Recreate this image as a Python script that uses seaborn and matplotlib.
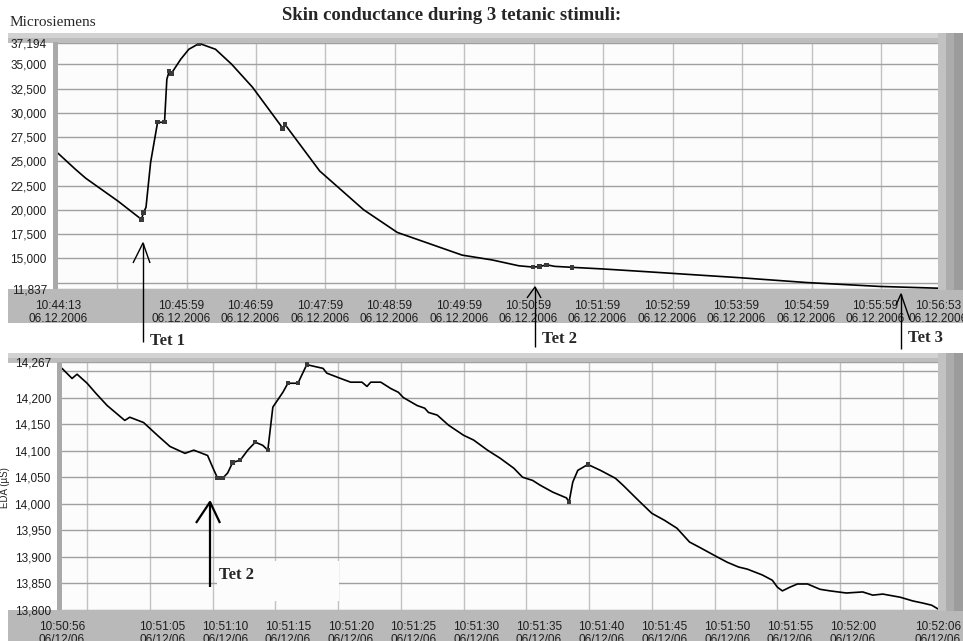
import matplotlib
matplotlib.use("Agg")
import matplotlib.pyplot as plt
import seaborn as sns
from matplotlib.patches import Rectangle
from matplotlib.lines import Line2D

# ---- data ----
# upper panel: seconds after 10:44:13, microsiemens
top_t = [0, 15, 24, 52, 72, 74, 76, 80, 86, 92, 94, 96, 98, 106, 113, 122, 136, 150, 168, 192,
         194, 196, 226, 264, 293, 321, 349, 375, 398, 410, 416, 422, 429, 444, 471, 511, 555, 589, 647, 710, 760]
top_v = [25830, 24180, 23250, 20880, 19020, 19740, 20260, 24900, 29020, 29020, 33450, 34280, 34070, 35520,
         36550, 37150, 36550, 35000, 32630, 28750, 28400, 28800, 24000, 20000, 17670, 16500, 15330, 14830,
         14230, 14100, 14150, 14330, 14170, 14070, 13900, 13600, 13260, 13000, 12500, 12100, 11920]
top_marks = [72, 74, 86, 92, 96, 98, 122, 194, 196, 410, 416, 422, 444]

top_tick_t = [0, 46, 106, 166, 226, 286, 346, 406, 466, 526, 586, 646, 706, 760]
top_tick_lab = ["10:44:13", "", "10:45:59", "10:46:59", "10:47:59", "10:48:59", "10:49:59", "10:50:59",
                "10:51:59", "10:52:59", "10:53:59", "10:54:59", "10:55:59", "10:56:53"]
top_date = "06.12.2006"
top_grid_t = [51, 111, 171, 231, 291, 351, 411, 471, 531, 591, 651, 711]
top_yticks = [11837, 12500, 15000, 17500, 20000, 22500, 25000, 27500, 30000, 32500, 35000, 37194]
top_yhide = [12500]

# lower panel: seconds after 10:50:56
bot_t = [1.0, 1.8, 2.2, 3.0, 3.7, 4.6, 6.0, 6.4, 7.5, 8.6,
         9.6, 10.8, 11.5, 12.6, 13.0, 13.4, 13.8, 14.2, 14.6, 15.2,
         15.8, 16.4, 17.0, 17.4, 17.8, 18.6, 19.0, 19.8, 20.5, 21.8,
         22.1, 23.2, 24.0, 24.9, 25.3, 25.6, 26.4, 27.2, 27.8, 28.2,
         29.3, 29.9, 30.2, 30.9, 31.8, 33.0, 33.8, 34.9, 35.9, 37.0,
         37.7, 38.5, 39.1, 40.1, 41.2, 41.4, 41.7, 42.1, 42.9, 43.9,
         45.1, 45.7, 46.9, 48.0, 49.0, 50.0, 51.0, 51.8, 53.2, 54.0,
         54.9, 55.6, 56.8, 57.6, 58.0, 58.4, 59.0, 59.6, 60.4, 61.4,
         62.2, 63.5, 64.8, 65.6, 66.4, 67.8, 68.8, 69.6, 70.3, 70.8]
bot_v = [14255, 14236, 14244, 14227, 14208, 14185, 14157, 14163, 14153, 14129,
         14108, 14095, 14101, 14091, 14069, 14048, 14048, 14058, 14078, 14082,
         14101, 14116, 14110, 14101, 14182, 14210, 14227, 14227, 14262, 14255,
         14246, 14236, 14229, 14229, 14221, 14229, 14229, 14217, 14210, 14200,
         14185, 14180, 14172, 14167, 14148, 14129, 14120, 14101, 14086, 14067,
         14050, 14044, 14035, 14022, 14011, 14003, 14041, 14063, 14074, 14063,
         14048, 14035, 14007, 13982, 13969, 13954, 13928, 13918, 13900, 13890,
         13881, 13877, 13866, 13856, 13843, 13836, 13843, 13849, 13849, 13839,
         13836, 13832, 13834, 13828, 13830, 13824, 13817, 13813, 13809, 13802]
bot_marks = [13.4, 13.8, 14.6, 15.2, 16.4, 17.4, 19.0, 19.8, 20.5, 41.4, 42.9]

bot_tick_t = [1.0, 4, 9, 14, 19, 24, 29, 34, 39, 44, 49, 54, 59, 64, 69, 70.8]
bot_tick_lab = ["10:50:56", "", "10:51:05", "10:51:10", "10:51:15", "10:51:20", "10:51:25", "10:51:30",
                "10:51:35", "10:51:40", "10:51:45", "10:51:50", "10:51:55", "10:52:00", "", "10:52:06"]
bot_date = "06/12/06"
bot_grid_t = [3, 8, 13, 18, 23, 28, 33, 38, 43, 48, 53, 58, 63, 68]
bot_yticks = [13800, 13850, 13900, 13950, 14000, 14050, 14100, 14150, 14200, 14250, 14267]
bot_yhide = [14250]

# ---- figure, laid out in screenshot pixels ----
sns.set_style("white")
plt.rcParams["font.family"] = ["Liberation Sans", "DejaVu Sans"]
W, H = 963, 641
fig = plt.figure(figsize=(W / 100, H / 100), dpi=100)


def fx(x):
    return x / W


def fy(y):
    return 1 - y / H


def rect(x0, y0, x1, y1, color, z=-1):
    fig.add_artist(Rectangle((fx(x0), fy(y1)), fx(x1) - fx(x0), fy(y0) - fy(y1),
                             transform=fig.transFigure, facecolor=color, edgecolor="none", zorder=z))


def seg(xs, ys, lw=1.0):
    fig.add_artist(Line2D([fx(x) for x in xs], [fy(y) for y in ys], transform=fig.transFigure,
                          color="black", lw=lw, zorder=5, solid_capstyle="butt"))


# LabVIEW-like grey frame pieces
for (top, bottom, left) in [(33, 289, 58), (353, 610, 62)]:
    rect(8, top, 963, top + 5, "#d2d2d2")
    rect(8, top + 5, 963, top + 10, "#bdbdbd")
    rect(left - 5, top + 9, left, bottom, "#a9a9a9")
    rect(8, bottom, 963, bottom + 34, "#b9b9b9")
    rect(938, top, 946, bottom + 1, "#c2c2c2")
    rect(946, top, 954, bottom + 1, "#acacac")
    rect(954, top, 963, bottom + 1, "#9c9c9c")

ax1 = fig.add_axes([fx(58), fy(289), fx(938) - fx(58), fy(43) - fy(289)])
ax2 = fig.add_axes([fx(62), fy(610), fx(938) - fx(62), fy(362) - fy(610)])


def style_axes(ax, tick_t, tick_lab, date, grid_t, yticks, yhide):
    ax.set_facecolor("#fcfcfc")
    for s in ax.spines.values():
        s.set_visible(False)
    ax.spines["left"].set_position(("outward", 3))
    ax.spines["bottom"].set_position(("outward", 1.5))
    ax.set_xticks(tick_t)
    ax.set_xticklabels([f"{t}\n{date}" if t else "" for t in tick_lab], linespacing=1.15)
    ax.set_xticks(grid_t, minor=True)
    ax.set_yticks(yticks)
    ax.set_yticklabels(["" if v in yhide else f"{v:,}" for v in yticks])
    ax.tick_params(which="major", direction="out", length=3, width=0.8, color="#333333",
                   labelsize=8.5, labelcolor="#1e1e1e", pad=2)
    ax.tick_params(axis="x", which="major", pad=3.5)
    ax.tick_params(which="minor", length=0)
    ax.grid(which="minor", axis="x", color="#c2c2c2", lw=1.0)
    ax.grid(which="major", axis="y", color="#a0a0a0", lw=1.0)
    ax.set_xlabel("")
    ax.set_ylabel("")


# upper panel
sns.lineplot(x=top_t, y=top_v, ax=ax1, color="black", lw=1.2, estimator=None, sort=False)
sns.scatterplot(x=top_marks, y=[top_v[top_t.index(t)] for t in top_marks], ax=ax1,
                marker="s", s=10, color="#3a3a3a", edgecolor="none", zorder=3)
ax1.set_xlim(top_t[0], top_t[-1])
ax1.set_ylim(top_yticks[0], top_yticks[-1])
style_axes(ax1, top_tick_t, top_tick_lab, top_date, top_grid_t, top_yticks, top_yhide)

# lower panel
sns.lineplot(x=bot_t, y=bot_v, ax=ax2, color="black", lw=1.2, estimator=None, sort=False)
sns.scatterplot(x=bot_marks, y=[bot_v[bot_t.index(t)] for t in bot_marks], ax=ax2,
                marker="s", s=10, color="#3a3a3a", edgecolor="none", zorder=3)
ax2.set_xlim(bot_t[0], bot_t[-1])
ax2.set_ylim(bot_yticks[0], bot_yticks[-1])
style_axes(ax2, bot_tick_t, bot_tick_lab, bot_date, bot_grid_t, bot_yticks, bot_yhide)

# titles / labels
serif = ["Liberation Serif", "DejaVu Serif"]
fig.text(fx(452), fy(15), "Skin conductance during 3 tetanic stimuli:", ha="center", va="center",
         fontsize=13.5, fontweight="bold", family=serif)
fig.text(fx(10), fy(23), "Microsiemens", ha="left", va="center", fontsize=11, family=serif)
fig.text(fx(5), fy(488), "EDA (µS)", ha="center", va="center", rotation=90, fontsize=7)

# white patch behind the lower "Tet 2" label
rect(217, 561, 339, 601, "#fcfcfc", z=1)

# stimulus arrows
seg([143, 143], [243, 342])
seg([133, 143, 150], [263, 243, 263])
seg([535, 535], [287, 347])
seg([527, 535, 541], [298, 287, 298])
seg([901, 901], [294, 349])
seg([896, 901, 910], [305, 294, 320])
seg([210, 210], [502, 587], lw=1.6)
seg([196, 210, 220], [523, 502, 523], lw=1.6)

for x, y, s in [(150, 341, "Tet 1"), (542, 339, "Tet 2"), (908, 338, "Tet 3"), (219, 575, "Tet 2")]:
    fig.text(fx(x), fy(y), s, ha="left", va="center", fontsize=12, fontweight="bold", family=serif, zorder=6)

fig.savefig("out.png", dpi=100)
